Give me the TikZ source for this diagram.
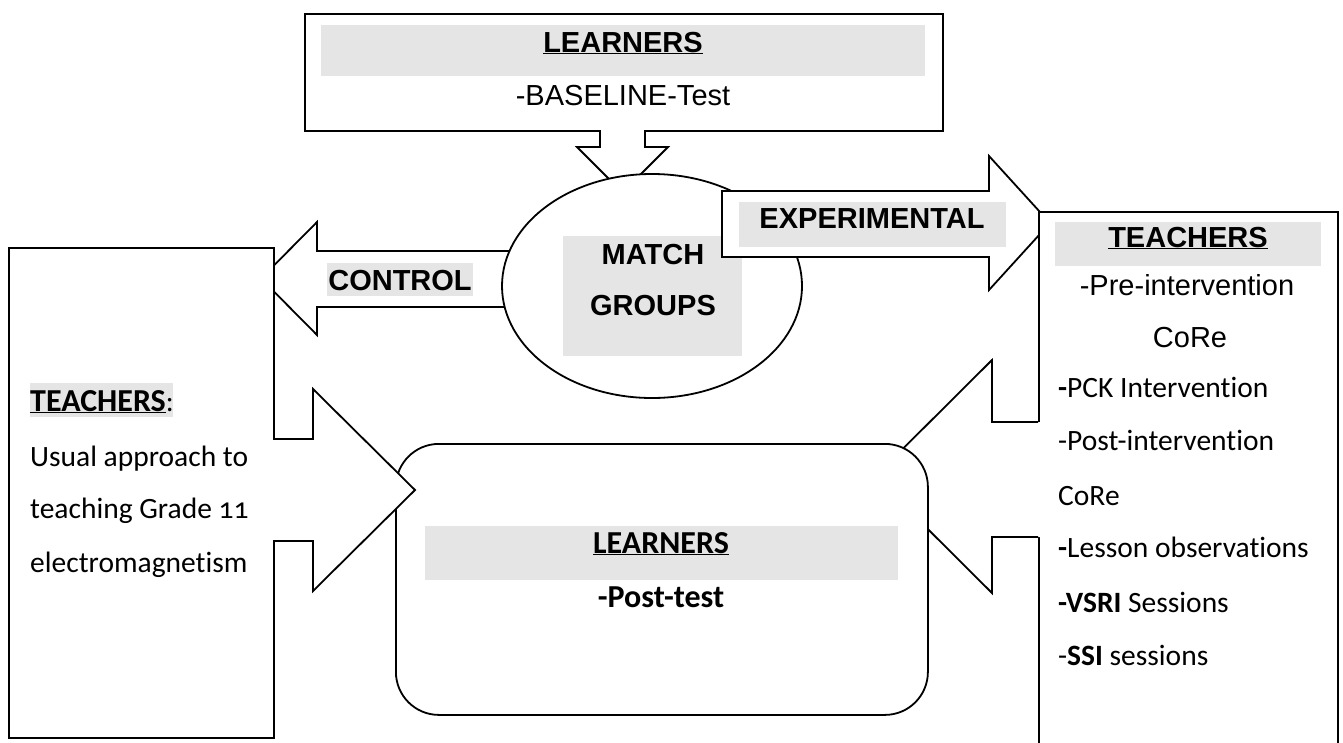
\documentclass[tikz,border=0pt]{standalone}
\usepackage{fontspec}
\setmainfont{Liberation Sans}
\newfontfamily\candfont[Numbers=OldStyle, Ligatures=NoCommon]{Carlito}
\usetikzlibrary{shapes.geometric}

\tikzset{
  box/.style={draw, line width=1.8pt, fill=white, inner sep=0pt},
  band/.style={fill=black!10},
  blockarrow/.style={draw, line width=1.8pt, fill=white, line join=miter},
  arrowline/.style={draw, line width=1.8pt, line join=miter},
  head/.style={font=\fontsize{29}{34}\selectfont\bfseries, anchor=base, inner sep=0pt},
  plain/.style={font=\fontsize{29}{34}\selectfont, anchor=base, inner sep=0pt},
  item/.style={font=\candfont\fontsize{29.5}{35}\selectfont, anchor=base west, inner sep=0pt},
  itemb/.style={font=\candfont\fontsize{32}{38}\selectfont\bfseries, anchor=base, inner sep=0pt},
}

\begin{document}
\begin{tikzpicture}[x=1pt,y=-1pt]
  \useasboundingbox (0,0) rectangle (1343,742);
  \clip (0,0) rectangle (1343,742);
  \fill[white] (0,0) rectangle (1343,742);

  % baseline test
  \node[box, minimum width=638pt, minimum height=117pt, anchor=north west] (base) at (304,13) {};
  \fill[band] (321,25) rectangle (925,76);
  \node[head] (baseT) at (623,52) {\underline{LEARNERS}};
  \node[plain] (baseL) at (623,105) {-BASELINE-Test};

  \fill[white] (600,128) -- (600,147) -- (577,147) -- (622.5,192.5) -- (668,147) -- (645,147) -- (645,128) -- cycle;
  \draw[arrowline] (600,130) -- (600,147) -- (577,147) -- (622.5,192.5) -- (668,147) -- (645,147) -- (645,130);

  % control arrow
  \draw[blockarrow] (560,251) -- (317,251) -- (317,222) -- (261,278.5) -- (317,335) -- (317,307) -- (560,307) -- cycle;
  \fill[band] (327,263) rectangle (473,296);
  \node[head] (ctrl) at (400,290) {CONTROL};

  % matching
  \node[box, ellipse, minimum width=300pt, minimum height=224pt] (match) at (652,286) {};
  \fill[band] (563,236) rectangle (742,356);
  \node[head] (matchA) at (653,264) {MATCH};
  \node[head] (matchB) at (653,315) {GROUPS};

  % experimental arrow
  \draw[blockarrow] (722,191) -- (989,191) -- (989,156) -- (1050,223) -- (989,290) -- (989,257) -- (722,257) -- cycle;
  \fill[band] (739,202) rectangle (1006,247);
  \node[head] (exp) at (872,228) {EXPERIMENTAL};

  % teachers
  \node[box, minimum width=265pt, minimum height=490pt, anchor=north west] (tleft) at (8,247) {};
  \node[box, minimum width=299pt, minimum height=560pt, anchor=north west] (tright) at (1038,211) {};

  \fill[white] (1040,422) -- (992,422) -- (992,360) -- (875,476.5) -- (992,593) -- (992,537) -- (1040,537) -- cycle;
  \draw[arrowline] (1038,422) -- (992,422) -- (992,360) -- (875,476.5) -- (992,593) -- (992,537) -- (1038,537);

  % post-test
  \node[box, rounded corners=43pt, minimum width=532pt, minimum height=271pt, anchor=north west] (post) at (395,443) {};
  \fill[band] (425,526) rectangle (898,580);
  \node[itemb] (postT) at (661,553) {\underline{LEARNERS}};
  \node[itemb] (postL) at (661,607) {-Post-test};

  \fill[white] (271,439) -- (313,439) -- (313,389) -- (415,490) -- (313,591) -- (313,541) -- (271,541) -- cycle;
  \draw[arrowline] (273,439) -- (313,439) -- (313,389) -- (415,490) -- (313,591) -- (313,541) -- (273,541);

  \fill[band] (30,383) rectangle (173,417);
  \node[item] (tl0) at (30,411) {{\fontsize{32}{38}\selectfont\bfseries\underline{TEACHERS}}:};
  \node[item] (tl1) at (30,466) {Usual approach to};
  \node[item] (tl2) at (30,518) {teaching Grade 11};
  \node[item] (tl3) at (30,572) {electromagnetism};

  \fill[band] (1055,222) rectangle (1321,266);
  \node[head] (tr0) at (1188,247) {\underline{TEACHERS}};
  \node[plain] (tr1) at (1187,295) {-Pre-intervention};
  \node[plain] (tr2) at (1190,347) {CoRe};
  \node[item] (tr3) at (1058,397) {\textbf{-}PCK Intervention};
  \node[item] (tr4) at (1058,450) {-Post-intervention};
  \node[item] (tr5) at (1058,505) {CoRe};
  \node[item] (tr6) at (1058,557) {\textbf{-}Lesson observations};
  \node[item] (tr7) at (1058,612) {\textbf{-VSRI} Sessions};
  \node[item] (tr8) at (1058,665) {-\textbf{SSI} sessions};
\end{tikzpicture}
\end{document}
